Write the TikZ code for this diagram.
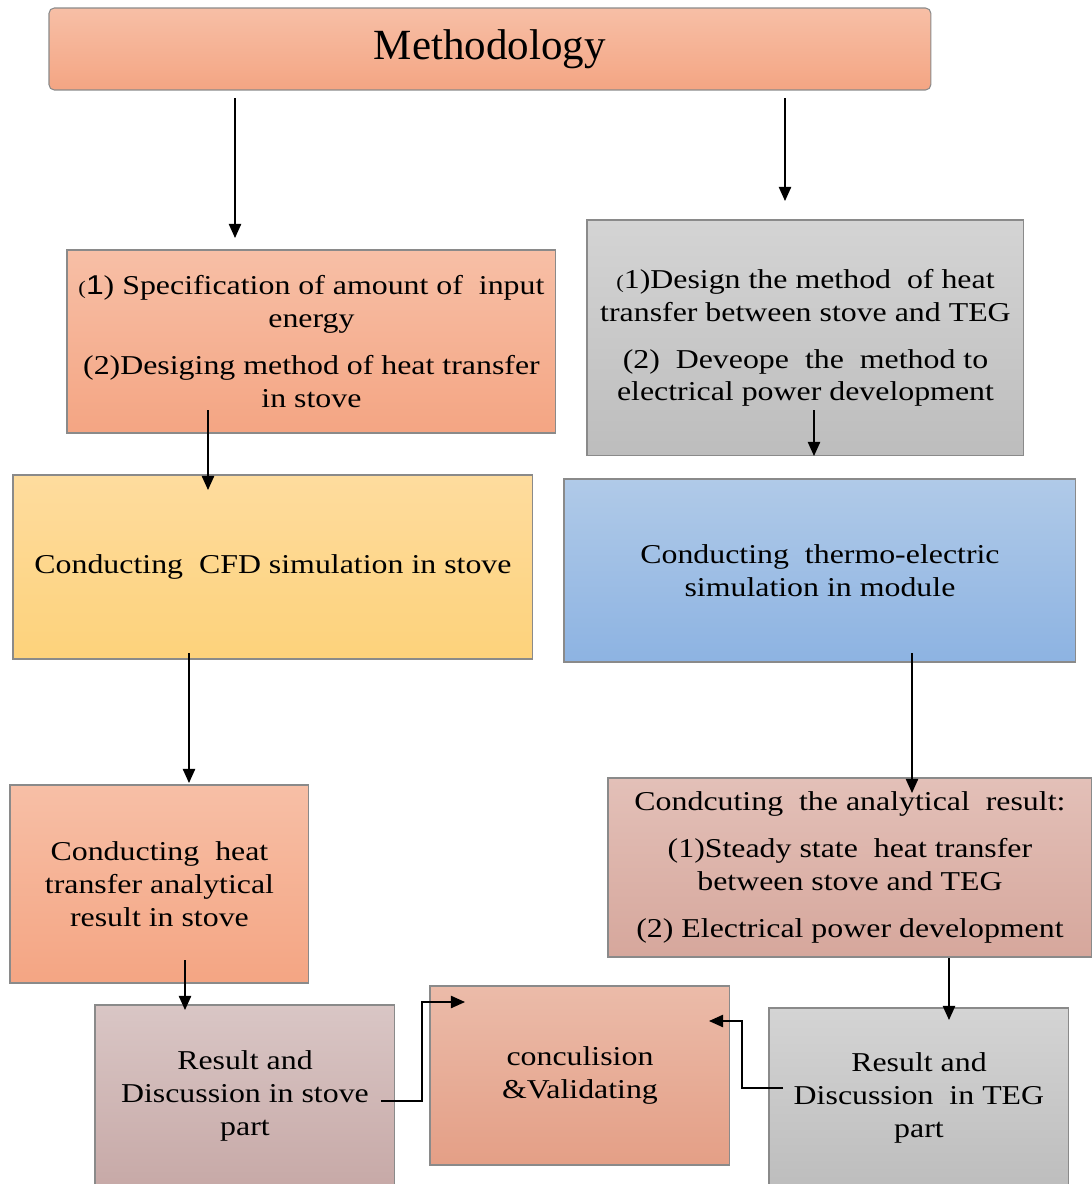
\documentclass[tikz,border=0pt]{standalone}
\usepackage{fontspec}
\setmainfont[FakeStretch=1.17]{Liberation Serif}
\newfontfamily\plainserif{Liberation Serif}
\newfontfamily\sansdig[FakeStretch=1.17]{Liberation Sans}
\usetikzlibrary{arrows.meta}
\definecolor{salT}{HTML}{F7BFA6}\definecolor{salB}{HTML}{F4A583}
\definecolor{grT}{HTML}{D4D4D4}\definecolor{grB}{HTML}{BDBDBD}
\definecolor{yeT}{HTML}{FEDC9E}\definecolor{yeB}{HTML}{FDD27B}
\definecolor{blT}{HTML}{B0CAE8}\definecolor{blB}{HTML}{8DB3E2}
\definecolor{roT}{HTML}{E3C0B8}\definecolor{roB}{HTML}{D6A79C}
\definecolor{maT}{HTML}{D9C6C5}\definecolor{maB}{HTML}{C7A9A7}
\definecolor{coT}{HTML}{EBBBA9}\definecolor{coB}{HTML}{E49F86}
\definecolor{edge}{HTML}{8A8A8A}
\tikzset{
  boxnode/.style={draw=edge, line width=0.6pt, inner sep=0pt, outer sep=0pt,
    anchor=north west, align=center, font=\fontsize{15.5}{18.7}\selectfont},
  sal/.style={top color=salT, bottom color=salB},
  gry/.style={top color=grT, bottom color=grB},
  yel/.style={top color=yeT, bottom color=yeB},
  blu/.style={top color=blT, bottom color=blB},
  ros/.style={top color=roT, bottom color=roB},
  mau/.style={top color=maT, bottom color=maB},
  con/.style={top color=coT, bottom color=coB},
  arr/.style={line width=0.8pt, -{Triangle[length=8pt,width=7pt]}}
}
\newcommand{\smp}{{\fontsize{11}{11}\selectfont(}}
\begin{document}
\begin{tikzpicture}[x=0.02cm,y=-0.02cm]
\useasboundingbox (0,0) rectangle (1092,1184);
% boxes
\node[boxnode, sal, rounded corners=3pt, minimum width=17.64cm, minimum height=1.64cm,
  font=\plainserif\fontsize{24.5}{28}\selectfont] (meth) at (49,8) {\raisebox{-2pt}{Methodology}};
\node[boxnode, sal, minimum width=9.78cm, minimum height=3.66cm] (spec) at (67,250)
  {\smp{\sansdig 1}) Specification of amount of \ input\\ energy\\[8pt]
   (2)Desiging method of heat transfer\\ in stove};
\node[boxnode, gry, minimum width=8.74cm, minimum height=4.72cm] (design) at (587,220)
  {\smp1)Design the method \ of heat\\ transfer between stove and TEG\\[8pt]
   (2) \ Deveope \ the \ method to\\ electrical power development};
\node[boxnode, yel, minimum width=10.4cm, minimum height=3.68cm] (cfd) at (13,475)
  {Conducting \ CFD simulation in stove};
\node[boxnode, blu, minimum width=10.24cm, minimum height=3.66cm] (thermo) at (564,479)
  {Conducting \ thermo-electric\\ simulation in module};
\node[boxnode, sal, minimum width=5.98cm, minimum height=3.96cm] (heat) at (10,785)
  {Conducting \ heat\\ transfer analytical\\ result in stove};
\node[boxnode, ros, minimum width=9.68cm, minimum height=3.58cm] (anal) at (608,778)
  {Condcuting \ the analytical \ result:\\[8pt]
   (1)Steady state \ heat transfer\\ between stove and TEG\\[8pt]
   (2) Electrical power development};
\node[boxnode, mau, minimum width=6cm, minimum height=3.64cm] (resS) at (95,1005)
  {Result and\\ Discussion in stove\\ part};
\node[boxnode, con, minimum width=6cm, minimum height=3.58cm] (concl) at (430,986)
  {conculision\\ \&Validating};
\node[boxnode, gry, minimum width=6cm, minimum height=3.6cm] (resT) at (769,1008)
  {Result and\\ Discussion \ in TEG\\ part};
% connector end points
\coordinate (m1) at (235,98);  \coordinate (m1e) at (235,238);
\coordinate (m2) at (785,98);  \coordinate (m2e) at (785,201);
\coordinate (s1) at (208,410); \coordinate (s1e) at (208,490);
\coordinate (d1) at (814,410); \coordinate (d1e) at (814,456);
\coordinate (c1) at (189,653); \coordinate (c1e) at (189,783);
\coordinate (t1) at (912,653); \coordinate (t1e) at (912,793);
\coordinate (h1) at (185,960); \coordinate (h1e) at (185,1010);
\coordinate (a1) at (949,958); \coordinate (a1e) at (949,1020);
\coordinate (r1) at (381,1101); \coordinate (r1e) at (465,1002);
\coordinate (g1) at (783,1088); \coordinate (g1e) at (709,1021);
% connectors
\draw[arr] (m1) -- (m1e);
\draw[arr] (m2) -- (m2e);
\draw[arr] (s1) -- (s1e);
\draw[arr] (d1) -- (d1e);
\draw[arr] (c1) -- (c1e);
\draw[arr] (t1) -- (t1e);
\draw[arr] (h1) -- (h1e);
\draw[arr] (a1) -- (a1e);
\draw[arr] (r1) -- (422,1101) -- (422,1002) -- (r1e);
\draw[arr] (g1) -- (742,1088) -- (742,1021) -- (g1e);
\end{tikzpicture}
\end{document}
